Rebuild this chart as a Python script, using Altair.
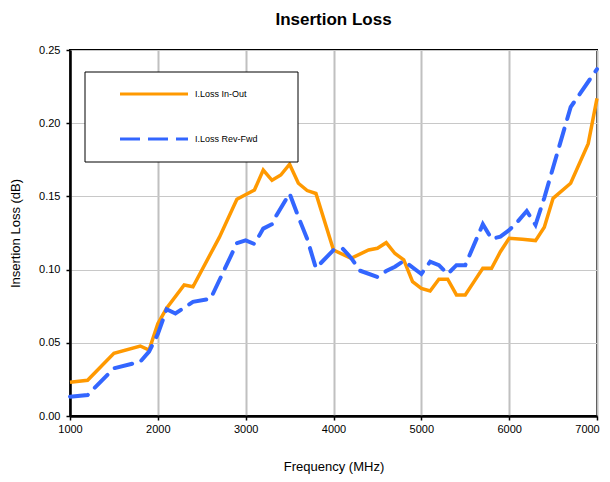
import altair as alt
import pandas as pd

# ---- data ----
in_out_freq = [1000, 1200, 1500, 1800, 1900, 2000, 2100, 2300, 2400, 2700, 2900,
               3100, 3200, 3300, 3400, 3500, 3600, 3700, 3800, 4000, 4200, 4400,
               4500, 4600, 4700, 4800, 4900, 5000, 5100, 5200, 5300, 5400, 5500,
               5600, 5700, 5800, 5900, 6000, 6150, 6300, 6400, 6500, 6700, 6900, 7000]
in_out_loss = [0.023, 0.0244, 0.0428, 0.0478, 0.045, 0.063, 0.0736, 0.0895, 0.0883, 0.122, 0.148,
               0.1544, 0.168, 0.161, 0.1646, 0.172, 0.159, 0.154, 0.152, 0.1134, 0.1077, 0.1134,
               0.1146, 0.1184, 0.111, 0.1066, 0.0918, 0.0872, 0.0854, 0.0934, 0.0934, 0.0827, 0.0827,
               0.0918, 0.1009, 0.1009, 0.1122, 0.1214, 0.1207, 0.1198, 0.129, 0.1487, 0.159, 0.186, 0.217]

rev_fwd_freq = [1000, 1200, 1500, 1800, 1900, 2000, 2100, 2200, 2300, 2400, 2600, 2900,
                3000, 3100, 3200, 3300, 3350, 3500, 3600, 3700, 3800, 4000, 4100, 4200,
                4300, 4500, 4600, 4700, 4800, 5000, 5100, 5200, 5300, 5400, 5500, 5700,
                5800, 5900, 6000, 6100, 6200, 6300, 6400, 6700, 7000]
rev_fwd_loss = [0.0132, 0.0143, 0.0326, 0.0371, 0.044, 0.056, 0.0729, 0.070, 0.074, 0.078, 0.080, 0.118,
                0.120, 0.1175, 0.128, 0.131, 0.137, 0.152, 0.136, 0.121, 0.101, 0.1134, 0.1146, 0.108,
                0.0993, 0.0950, 0.099, 0.102, 0.106, 0.097, 0.1054, 0.103, 0.097, 0.103, 0.103, 0.131,
                0.121, 0.1225, 0.127, 0.133, 0.140, 0.1305, 0.149, 0.211, 0.237]

series_names = ["I.Loss In-Out", "I.Loss Rev-Fwd"]
series_colors = ["#FF9900", "#3366FF"]
x_ticks = [1000, 2000, 3000, 4000, 5000, 6000, 7000]
y_ticks = [0.0, 0.05, 0.10, 0.15, 0.20, 0.25]

df = pd.concat([
    pd.DataFrame({"freq": in_out_freq, "loss": in_out_loss, "series": series_names[0]}),
    pd.DataFrame({"freq": rev_fwd_freq, "loss": rev_fwd_loss, "series": series_names[1]}),
])

FONT = "Liberation Sans"

x_enc = alt.X("freq:Q", scale=alt.Scale(domain=[1000, 7000], nice=False, zero=False),
              axis=alt.Axis(values=x_ticks, format="d", title="Frequency (MHz)",
                            gridWidth=2, gridColor="#c0c0c0", titlePadding=26,
                            labelFlush=False,
                            labelOffset={"expr": "datum.value == 7000 ? -10 : 0"}))
y_enc = alt.Y("loss:Q", scale=alt.Scale(domain=[0, 0.25], nice=False),
              axis=alt.Axis(values=y_ticks, format=".2f", title="Insertion Loss (dB)",
                            gridWidth=1, gridColor="#c8c8c8", titlePadding=16,
                            labelFlush=False))

base = alt.Chart(df)

orange = base.transform_filter(alt.datum.series == series_names[0]).mark_line(
    color=series_colors[0], strokeWidth=3.5, strokeJoin="miter"
).encode(x=x_enc, y=y_enc, order="freq:Q")

blue = base.transform_filter(alt.datum.series == series_names[1]).mark_line(
    color=series_colors[1], strokeWidth=4, strokeDash=[18, 10], strokeCap="round"
).encode(x="freq:Q", y="loss:Q", order="freq:Q")

# ---- custom legend box ----
leg_df = pd.DataFrame({"series": series_names})
box = alt.Chart(leg_df).transform_filter(alt.datum.series == series_names[0]).mark_rect(
    fill="white", stroke="black", strokeWidth=1
).encode(x=alt.value(15), x2=alt.value(228), y=alt.value(22), y2=alt.value(112))

leg_line1 = alt.Chart(leg_df).transform_filter(alt.datum.series == series_names[0]).mark_rule(
    color=series_colors[0], strokeWidth=3
).encode(x=alt.value(50), x2=alt.value(118), y=alt.value(44))
leg_line2 = alt.Chart(leg_df).transform_filter(alt.datum.series == series_names[1]).mark_rule(
    color=series_colors[1], strokeWidth=3, strokeDash=[20, 8]
).encode(x=alt.value(50), x2=alt.value(118), y=alt.value(89))

leg_text1 = alt.Chart(leg_df).transform_filter(alt.datum.series == series_names[0]).mark_text(
    align="left", baseline="middle", font=FONT, fontSize=9, color="black"
).encode(x=alt.value(125), y=alt.value(44), text="series:N")
leg_text2 = alt.Chart(leg_df).transform_filter(alt.datum.series == series_names[1]).mark_text(
    align="left", baseline="middle", font=FONT, fontSize=9, color="black"
).encode(x=alt.value(125), y=alt.value(89), text="series:N")

chart = alt.layer(orange, blue, box, leg_line1, leg_line2, leg_text1, leg_text2).properties(
    width=527, height=366,
    title=alt.TitleParams("Insertion Loss", font=FONT, fontSize=17, fontWeight="bold",
                          anchor="middle", offset=15, color="black"),
    autosize=alt.AutoSizeParams(type="none"),
    padding={"left": 62, "top": 42, "right": 5, "bottom": 58},
).configure_view(
    stroke="black", strokeWidth=2
).configure_axis(
    labelFont=FONT, labelFontSize=11, labelColor="black",
    titleFont=FONT, titleFontSize=13, titleFontWeight="normal", titleColor="black",
    domainColor="black", domainWidth=2.5,
    tickColor="black", tickSize=4, tickWidth=1.5,
).configure_axisX(
    labelPadding=3
).configure_axisY(
    labelPadding=6
)

chart.save("out.html", embed_options={"renderer": "svg", "actions": False})
